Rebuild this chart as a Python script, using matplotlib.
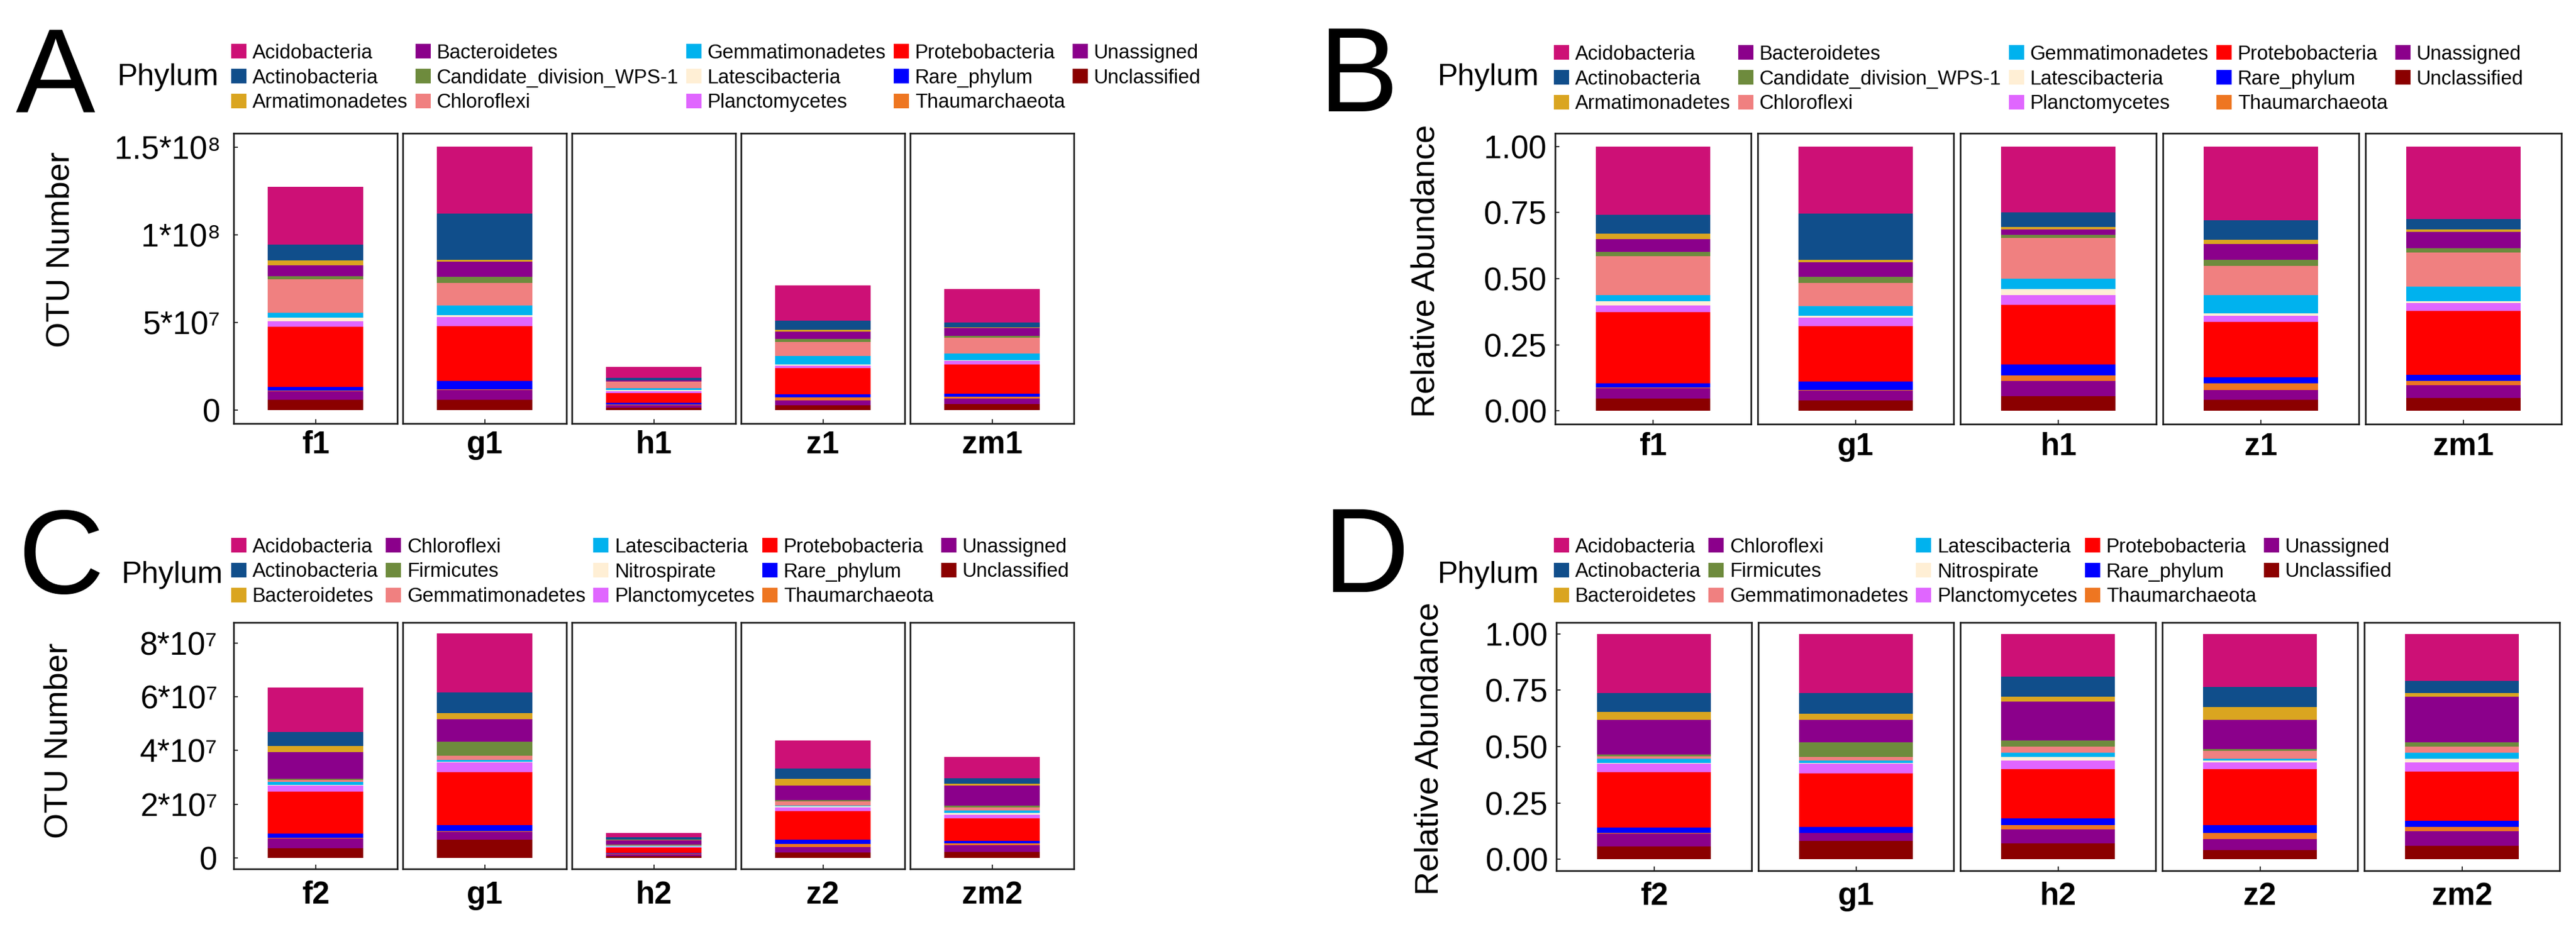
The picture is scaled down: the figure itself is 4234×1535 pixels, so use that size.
import matplotlib
matplotlib.use("Agg")
import matplotlib.pyplot as plt
from matplotlib.patches import Patch

plt.rcParams['font.family'] = ['Liberation Sans', 'DejaVu Sans']

W, H = 4234, 1535
DPI = 100

# colours by legend position (same list for both rows)
palette = ['#CD1076', '#104E8B', '#DAA520', '#8B008B', '#6E8B3D', '#F08080', '#00B2EE',
           '#FFEFD5', '#E066FF', '#FF0000', '#0000FF', '#EE7621', '#8B008B', '#8B0000']

phyla_top = ['Acidobacteria', 'Actinobacteria', 'Armatimonadetes', 'Bacteroidetes',
             'Candidate_division_WPS-1', 'Chloroflexi', 'Gemmatimonadetes', 'Latescibacteria',
             'Planctomycetes', 'Protebobacteria', 'Rare_phylum', 'Thaumarchaeota',
             'Unassigned', 'Unclassified']
phyla_bottom = ['Acidobacteria', 'Actinobacteria', 'Bacteroidetes', 'Chloroflexi',
                'Firmicutes', 'Gemmatimonadetes', 'Latescibacteria', 'Nitrospirate',
                'Planctomycetes', 'Protebobacteria', 'Rare_phylum', 'Thaumarchaeota',
                'Unassigned', 'Unclassified']

samples_top = ['f1', 'g1', 'h1', 'z1', 'zm1']
samples_bottom = ['f2', 'g1', 'h2', 'z2', 'zm2']

top_f1 = [0.259, 0.071, 0.021, 0.048, 0.015, 0.149, 0.023, 0.015, 0.025, 0.269, 0.017, 0.002, 0.040, 0.046]
top_g1 = [0.254, 0.175, 0.008, 0.057, 0.023, 0.086, 0.037, 0.007, 0.033, 0.209, 0.032, 0.002, 0.037, 0.040]
top_h1 = [0.250, 0.055, 0.008, 0.021, 0.011, 0.154, 0.040, 0.023, 0.038, 0.225, 0.040, 0.021, 0.057, 0.057]
top_z1 = [0.279, 0.074, 0.015, 0.061, 0.023, 0.111, 0.069, 0.008, 0.023, 0.209, 0.023, 0.025, 0.038, 0.042]
top_zm1 = [0.274, 0.040, 0.008, 0.063, 0.015, 0.130, 0.055, 0.006, 0.032, 0.240, 0.023, 0.016, 0.048, 0.050]

bot_f2 = [0.263, 0.082, 0.036, 0.155, 0.008, 0.009, 0.020, 0.003, 0.036, 0.246, 0.026, 0.002, 0.057, 0.057]
bot_g1 = [0.263, 0.091, 0.027, 0.100, 0.065, 0.017, 0.009, 0.003, 0.043, 0.237, 0.027, 0.002, 0.035, 0.081]
bot_h2 = [0.189, 0.091, 0.020, 0.173, 0.026, 0.029, 0.017, 0.018, 0.036, 0.219, 0.029, 0.020, 0.063, 0.070]
bot_z2 = [0.237, 0.089, 0.056, 0.129, 0.007, 0.036, 0.009, 0.008, 0.029, 0.247, 0.035, 0.029, 0.046, 0.043]
bot_zm2 = [0.208, 0.055, 0.017, 0.202, 0.017, 0.029, 0.026, 0.017, 0.039, 0.220, 0.026, 0.020, 0.064, 0.060]

otu_top = [1.272e8, 1.503e8, 2.48e7, 7.1e7, 6.9e7]
otu_bottom = [6.35e7, 8.36e7, 0.93e7, 4.37e7, 3.75e7]

ticks_a = [0, 5e7, 1e8, 1.5e8]
ticklabels_a = ['0', '5*10\u2077', '1*10\u2078', '1.5*10\u2078']
ticks_c = [0, 2e7, 4e7, 6e7, 8e7]
ticklabels_c = ['0', '2*10\u2077', '4*10\u2077', '6*10\u2077', '8*10\u2077']
ticks_rel = [0, 0.25, 0.5, 0.75, 1.0]
ticklabels_rel = ['0.00', '0.25', '0.50', '0.75', '1.00']

rel_top = [top_f1, top_g1, top_h1, top_z1, top_zm1]
rel_bottom = [bot_f2, bot_g1, bot_h2, bot_z2, bot_zm2]
count_top = [[v * t for v in fr] for fr, t in zip(rel_top, otu_top)]
count_bottom = [[v * t for v in fr] for fr, t in zip(rel_bottom, otu_bottom)]

fig = plt.figure(figsize=(W / DPI, H / DPI), dpi=DPI)


def fx(px):
    return px / W


def fy(py):
    return 1 - py / H


def draw_panel(letter, letter_pos, phyla, samples, values, x0, fw, gap, ytop, ybot,
               yticks, yticklabels, ylabel, ylabel_pos, legend_pos, phylum_pos,
               ypad, xpad):
    ymax = max(sum(v) for v in values)
    for i, (s, vals) in enumerate(zip(samples, values)):
        left = x0 + i * (fw + gap)
        ax = fig.add_axes([fx(left), fy(ybot), fw / W, (ybot - ytop) / H])
        bottom = 0
        # first phylum sits on top of the stack
        for j in range(len(phyla) - 1, -1, -1):
            ax.bar([s], [vals[j]], width=0.7, bottom=bottom, color=palette[j], linewidth=0)
            bottom += vals[j]
        ax.set_xlim(-0.6, 0.6)
        ax.set_ylim(-0.05 * ymax, 1.05 * ymax)
        for sp in ax.spines.values():
            sp.set_color('#1a1a1a')
            sp.set_linewidth(1.9)
        ax.tick_params(direction='in', length=5, width=1.4, color='#333333')
        ax.tick_params(axis='x', labelsize=37, pad=xpad)
        for lab in ax.get_xticklabels():
            lab.set_fontweight('bold')
        if i == 0:
            ax.set_yticks(yticks)
            ax.set_yticklabels(yticklabels)
            ax.tick_params(axis='y', labelsize=38, pad=ypad)
        else:
            ax.tick_params(axis='y', left=False, labelleft=False)

    fig.text(fx(letter_pos[0]), fy(letter_pos[1]), letter, fontsize=141,
             ha='left', va='baseline')
    fig.text(fx(phylum_pos[0]), fy(phylum_pos[1]), 'Phylum', fontsize=36,
             ha='left', va='baseline')
    fig.text(fx(ylabel_pos[0]), fy(ylabel_pos[1]), ylabel, fontsize=39,
             rotation=90, ha='center', va='center')
    handles = [Patch(facecolor=c, edgecolor='none') for c in palette]
    fig.legend(handles, phyla, loc='center left',
               bbox_to_anchor=(fx(legend_pos[0]), fy(legend_pos[1])),
               ncol=5, frameon=False, fontsize=23.5, handlelength=0.76,
               handleheight=0.76, handletextpad=0.3, columnspacing=0.4,
               labelspacing=0.3, borderpad=0, borderaxespad=0)


draw_panel('A', (26, 184), phyla_top, samples_top, count_top, 384, 269, 9, 219, 696,
           ticks_a, ticklabels_a, 'OTU Number', (100, 410), (380, 128), (193, 140), 15.5, 8)
draw_panel('B', (2168, 183), phyla_top, samples_top, rel_top, 2556, 322, 11, 219, 697,
           ticks_rel, ticklabels_rel, 'Relative Abundance', (2343, 445), (2554, 130), (2363, 140), 10, 9)
draw_panel('C', (30, 975), phyla_bottom, samples_bottom, count_bottom, 384, 269, 9, 1023, 1428,
           ticks_c, ticklabels_c, 'OTU Number', (97, 1217), (380, 940), (200, 958), 19, 14)
draw_panel('D', (2175, 973), phyla_bottom, samples_bottom, rel_bottom, 2558, 321, 11, 1023, 1431,
           ticks_rel, ticklabels_rel, 'Relative Abundance', (2350, 1230), (2554, 940), (2363, 958), 10, 13)

fig.savefig('out.png', dpi=DPI)
